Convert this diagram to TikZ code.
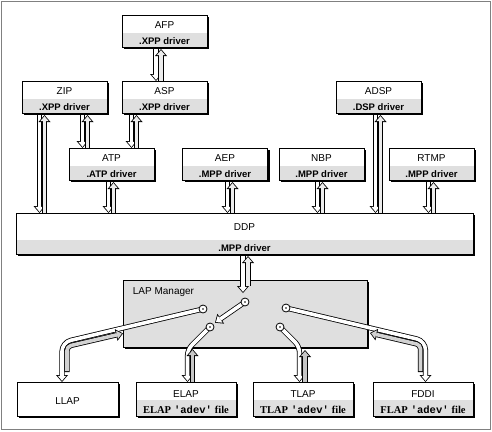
\documentclass[tikz,border=0pt]{standalone}
\usepackage{fontspec}
\setmainfont{Liberation Sans}
\newfontfamily\lapserif{Liberation Serif}
\newfontfamily\lapmono{Liberation Mono}
\usetikzlibrary{calc, arrows.meta}

\newcommand\adev{\hspace{3pt}{\lapmono\fontsize{10.5}{12}\selectfont\bfseries 'adev'}\hspace{3pt}}

\tikzset{
  box/.style={draw, line width=0.8pt, fill=white, inner sep=0pt, outer sep=0pt,
    minimum width=85, minimum height=32, text height=7.4pt, text depth=12.5pt,
    font=\fontsize{10}{12}\selectfont,
    preaction={fill=black, transform canvas={shift={(2pt,-2pt)}}}},
  band/.style={path picture={\fill[gray!25] (path picture bounding box.south west)
    rectangle ([yshift=#1]path picture bounding box.south east);}},
  band/.default=14pt,
  drv/.style={anchor=base, yshift=3pt, inner sep=0pt, font=\fontsize{9.5}{11}\selectfont\bfseries},
  lowdrv/.style={drv, font=\fontsize{10.5}{12}\selectfont\lapserif\bfseries},
  tube/.style={line width=5.2pt, -{Triangle[length=7pt, width=12pt, line width=0pt]}},
  tubein/.style={line width=3.6pt, color=#1, shorten >=1.2pt,
    -{Triangle[length=5pt, width=8.5pt, line width=0pt]}},
  tubein/.default=white
}

\newcommand\tube[3][white]{%
  \draw[tube] #3;
  \draw[tubein=#1, #2] #3;}

\newcommand\updown[4][gray!15]{%
  \tube{}{($(#4-2.5,0 |- #2.south)+(0,2.4)$) -- (#4-2.5,0 |- #3.north)}
  \tube[#1]{}{($(#4+2.5,0 |- #3.north)+(0,-0.4)$) -- ($(#4+2.5,0 |- #2.south)+(0,2)$)}}

\begin{document}
\begin{tikzpicture}[x=1pt, y=-1pt]

\useasboundingbox (0,0) rectangle (492,431);
\draw[gray, line width=1pt] (1,1) rectangle (490.5,429.5);

\node[box, band, label={[drv]south:.XPP driver}] (AFP) at (164.5,31) {AFP};
\node[box, band, label={[drv]south:.XPP driver}] (ZIP) at (64.5,97) {ZIP};
\node[box, band, label={[drv]south:.XPP driver}] (ASP) at (164.5,97) {ASP};
\node[box, band, label={[drv]south:.DSP driver}] (ADSP) at (378.5,97) {ADSP};
\node[box, band, label={[drv]south:.ATP driver}] (ATP) at (111.5,164) {ATP};
\node[box, band, label={[drv]south:.MPP driver}] (AEP) at (225,164) {AEP};
\node[box, band, label={[drv]south:.MPP driver}] (NBP) at (321.5,164) {NBP};
\node[box, band, label={[drv]south:.MPP driver}] (RTMP) at (431.5,164) {RTMP};
\node[box, band, minimum width=457, minimum height=41, text depth=13pt,
  label={[drv]south:.MPP driver}] (DDP) at (244.5,233.5) {DDP};

\node[draw, line width=0.8pt, fill=gray!25, outer sep=0pt, minimum width=244, minimum height=67,
  preaction={fill=black, transform canvas={shift={(2pt,-2pt)}}},
  label={[anchor=north west, inner sep=0pt, xshift=9.7pt, yshift=-7.3pt,
    font=\fontsize{10}{12}\selectfont]north west:LAP Manager}] (LAP) at (245,313.5) {};

\node[box, minimum width=101, minimum height=34, text height=10pt, text depth=0pt] (LLAP) at (67.5,399) {LLAP};
\node[box, band=16pt, minimum width=100, minimum height=34, text depth=11.4pt,
  label={[lowdrv]south:ELAP\adev file}] (ELAP) at (186,399) {ELAP};
\node[box, band=16pt, minimum width=100, minimum height=34, text depth=11.4pt,
  label={[lowdrv]south:TLAP\adev file}] (TLAP) at (303,399) {TLAP};
\node[box, band=16pt, minimum width=100, minimum height=34, text depth=11.4pt,
  label={[lowdrv]south:FLAP\adev file}] (FDDI) at (423,399) {FDDI};

\updown{AFP}{ASP}{158.5}
\updown{ZIP}{DDP}{42}
\updown{ZIP}{ATP}{85}
\updown{ASP}{ATP}{134}
\updown{ATP}{DDP}{111}
\updown{AEP}{DDP}{230}
\updown{NBP}{DDP}{320}
\updown{ADSP}{DDP}{378}
\updown{RTMP}{DDP}{431}

\coordinate (sw) at (245,302);
\coordinate (L) at (203,309);
\coordinate (E) at (210,327);
\coordinate (T) at (280,327);
\coordinate (F) at (286,308);
\coordinate (swtip) at (215,322.7);
\coordinate (lapup) at (248,286);
\coordinate (Lg) at (67,372);
\coordinate (Fg) at (420.5,372);
\coordinate (Eup) at (192.5,349);
\coordinate (Tup) at (305,350);

\tube{}{($(243,0 |- DDP.south)+(0,2.4)$) -- ($(sw)+(-2,-9)$)}
\tube[gray!15]{}{(lapup) -- ($(248,0 |- DDP.south)+(0,2)$)}

\tube{}{(sw) -- (swtip)}
\tube{}{(L) [rounded corners=9pt] -- (62,342.4) -- (62,0 |- LLAP.north)}
\tube[gray!35]{shorten <=0.8pt}{(Lg) [rounded corners=4pt] -- (67,346.4) -- (LAP.west |- 0,333.4)}
\tube{}{(E) [rounded corners=6pt] -- (187.5,349.5) -- (187.5,0 |- ELAP.north)}
\tube[gray!45]{}{($(Eup |- ELAP.north)+(0,-0.4)$) -- (Eup)}
\tube{}{(T) [rounded corners=6pt] -- (299.5,346.5) -- (299.5,0 |- TLAP.north)}
\tube[gray!45]{}{($(Tup |- TLAP.north)+(0,-0.4)$) -- (Tup)}
\tube{}{(F) [rounded corners=9pt] -- (425.5,341) -- (425.5,0 |- FDDI.north)}
\tube[gray!35]{shorten <=0.8pt}{(Fg) [rounded corners=4pt] -- (420.5,344.9) -- ($(LAP.east |- 0,333)+(3,0)$)}

\foreach \p in {sw,L,E,T,F} {
  \draw[line width=0.8pt, fill=white] (\p) circle (4pt);
  \fill (\p) circle (0.9pt);
}

\end{tikzpicture}
\end{document}
